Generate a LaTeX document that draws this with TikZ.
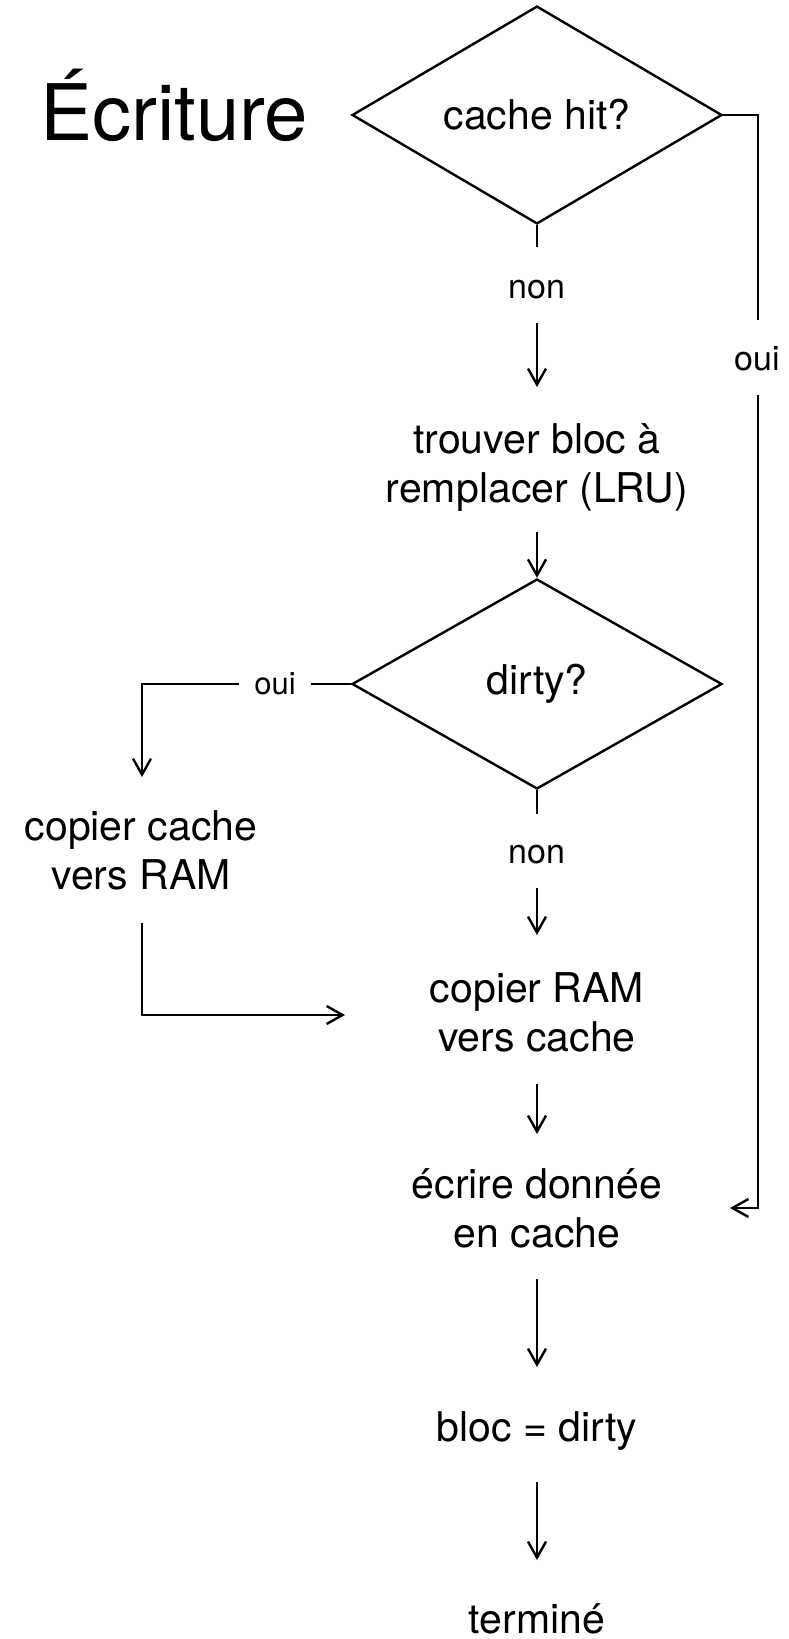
\documentclass[tikz,border=0pt]{standalone}
\usepackage{fontspec}
\setmainfont{TeX Gyre Heros}
\usetikzlibrary{shapes.geometric,arrows.meta}
\begin{document}
\begin{tikzpicture}[x=1pt,y=-1pt,
  line width=2.4pt,
  arr/.style={-{Straight Barb[length=16pt,width=18pt]}},
  dia/.style={draw,shape=diamond,minimum width=370pt,minimum height=210pt,inner sep=0pt,font=\fontsize{41}{49}\selectfont},
  txt/.style={inner sep=0pt,align=center,font=\fontsize{41}{49}\selectfont,anchor=base},
  lbl/.style={inner sep=0pt,font=\fontsize{34}{40}\selectfont,anchor=base},
  slbl/.style={inner xsep=14pt,inner ysep=0pt,font=\fontsize{31}{36}\selectfont}
]
\useasboundingbox (0,0) rectangle (788,1639);
\node[inner sep=0pt,anchor=base west,font=\fontsize{78}{90}\selectfont] (title) at (39,140) {Écriture};

\node[dia] (d1) at (537,115) {cache hit?};
\node[lbl] (non1) at (537,298) {non};
\node[lbl] (oui1) at (757,370) {oui};
% multi-line nodes: base anchor = baseline of last line
\node[txt] (trouver) at (537,502) {trouver bloc à\\remplacer (LRU)};
\node[dia] (d2) at (537,684) {dirty?};
\node[slbl] (oui2) at (275,684) {oui};
\node[txt] (copiercache) at (141,889) {copier cache\\vers RAM};
\node[lbl] (non2) at (537,863) {non};
\node[txt] (copierram) at (537,1051) {copier RAM\\vers cache};
\node[txt] (ecrire) at (537,1247) {écrire donnée\\en cache};
\node[txt] (bloc) at (537,1441) {bloc = dirty};
\node[txt] (termine) at (537,1633) {terminé};

% coordinates for free ends
\coordinate (n1a) at (537,247);
\coordinate (n1b) at (537,323);
\coordinate (n1c) at (537,387);
\coordinate (r1) at (758,320);
\coordinate (r2) at (758,395);
\coordinate (r3) at (730,1208);
\coordinate (t1) at (537,532);
\coordinate (c1) at (142,777);
\coordinate (n2a) at (537,814);
\coordinate (n2b) at (537,888);
\coordinate (n2c) at (537,935);
\coordinate (cc1) at (142,923);
\coordinate (cc2) at (345,1015);
\coordinate (e1) at (537,1084);
\coordinate (e2) at (537,1134);
\coordinate (f1) at (537,1279);
\coordinate (f2) at (537,1367);
\coordinate (g1) at (537,1482);
\coordinate (g2) at (537,1560);

\draw (d1.south) -- (n1a);
\draw[arr] (n1b) -- (n1c);
\draw (d1.east) -| (r1);
\draw[arr] (r2) |- (r3);
\draw[arr] (t1) -- (d2.north);
\draw (d2.west) -- (oui2.east);
\draw[arr] (oui2.west) -| (c1);
\draw (d2.south) -- (n2a);
\draw[arr] (n2b) -- (n2c);
\draw[arr] (cc1) |- (cc2);
\draw[arr] (e1) -- (e2);
\draw[arr] (f1) -- (f2);
\draw[arr] (g1) -- (g2);
\end{tikzpicture}
\end{document}
